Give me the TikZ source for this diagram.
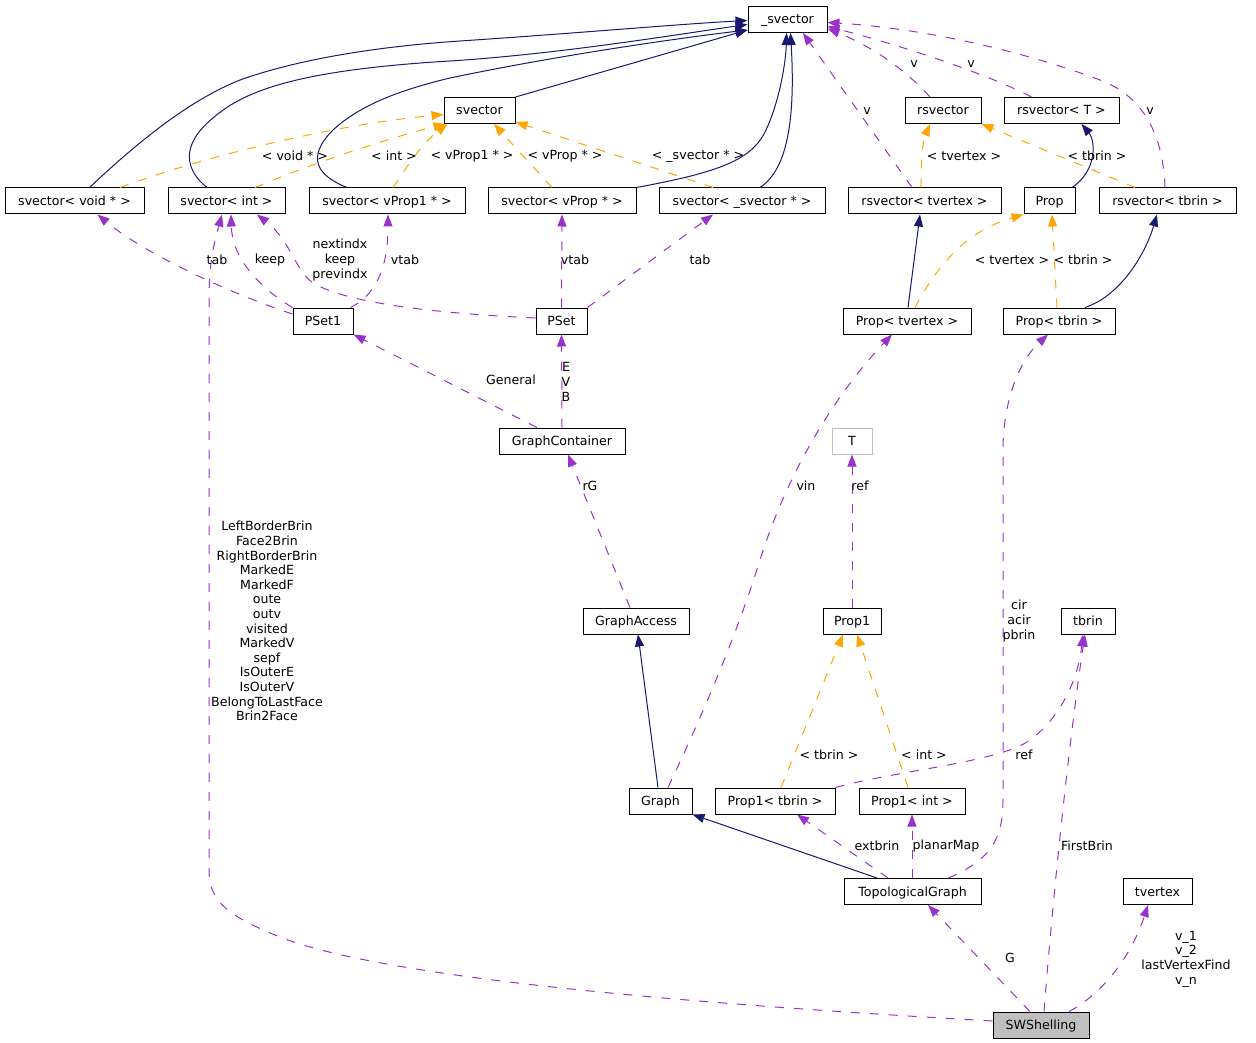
\documentclass[tikz,border=0pt]{standalone}
\usepackage{fontspec}
\setmainfont{DejaVu Sans}
\usetikzlibrary{positioning, arrows.meta, calc}

\definecolor{dxblue}{RGB}{25,25,112}
\definecolor{dxorange}{RGB}{255,165,0}
\definecolor{dxpurple}{RGB}{153,50,204}
\definecolor{dxgray}{RGB}{191,191,191}

\begin{document}
\begin{tikzpicture}[
    x=1pt, y=-1pt,
    >={Triangle[length=12pt, width=9pt]},
    every node/.style = {font=\fontsize{12.6}{14.6}\selectfont},
    cls/.style        = {rectangle, draw, line width=1pt, text height=11pt, text depth=2pt,
                         minimum height=26pt, inner sep=1pt},
    lbl/.style        = {align=center, inner sep=0pt},
    isa/.style        = {->, line width=1pt, dxblue},
    inst/.style       = {->, line width=1pt, dxorange, dash pattern=on 9pt off 10pt},
    uses/.style       = {->, line width=1pt, dxpurple, dash pattern=on 9pt off 10pt}
]
\useasboundingbox (0,0) rectangle (1256,1043);

% Base containers
\node[cls, minimum width=79pt]  (svec)  at (787.5,19.5)  {\_svector};
\node[cls, minimum width=71pt]  (sv)    at (479.5,110.5) {svector};
\node[cls, minimum width=76pt]  (rsv)   at (943,110.5)   {rsvector};
\node[cls, minimum width=115pt] (rsvT)  at (1061.5,110.5) {rsvector< T >};

% Template instances (row 2)
\node[cls, minimum width=139pt] (svVoid)   at (74.5,201)  {svector< void * >};
\node[cls, minimum width=117pt] (svInt)    at (226.5,201) {svector< int >};
\node[cls, minimum width=156pt] (svVProp1) at (387,201)   {svector< vProp1 * >};
\node[cls, minimum width=148pt] (svVProp)  at (562,201)   {svector< vProp * >};
\node[cls, minimum width=166pt] (svSvec)   at (742,201)   {svector< \_svector * >};
\node[cls, minimum width=153pt] (rsvTv)    at (924.5,201) {rsvector< tvertex >};
\node[cls, minimum width=51pt]  (prop)     at (1049.5,201) {Prop};
\node[cls, minimum width=137pt] (rsvTb)    at (1167.5,201) {rsvector< tbrin >};

% Sets and properties
\node[cls, minimum width=60pt]  (pset1)  at (323,321)   {PSet1};
\node[cls, minimum width=51pt]  (pset)   at (561.5,321) {PSet};
\node[cls, minimum width=128pt] (propTv) at (907,321)   {Prop< tvertex >};
\node[cls, minimum width=112pt] (propTb) at (1059,321)  {Prop< tbrin >};

\node[cls, minimum width=126pt] (gcont) at (562,441) {GraphContainer};
\node[cls, minimum width=40pt, draw=dxgray] (tT) at (852,441) {T};

\node[cls, minimum width=106pt] (gacc)  at (636,621)  {GraphAccess};
\node[cls, minimum width=58pt]  (prop1) at (852,621)  {Prop1};
\node[cls, minimum width=54pt]  (tbrin) at (1088,621) {tbrin};

\node[cls, minimum width=63pt]  (graph)    at (660.5,801) {Graph};
\node[cls, minimum width=120pt] (prop1Tb)  at (775,801)   {Prop1< tbrin >};
\node[cls, minimum width=106pt] (prop1Int) at (912,801)   {Prop1< int >};

\node[cls, minimum width=137pt] (topo)    at (912.5,891.5)  {TopologicalGraph};
\node[cls, minimum width=69pt]  (tvertex) at (1157.5,891.5) {tvertex};
\node[cls, minimum width=96pt, fill=dxgray] (sws) at (1041,1025) {SWShelling};

% Inheritance
\draw[isa] (sv.north east) -- ([yshift=3pt]svec.south west);
\draw[isa] ([xshift=15pt]svVoid.north) .. controls (140,140) and (190,100) .. (240,80)
           .. controls (310,55) and (400,45) .. (460,41)
           .. controls (580,33) and (680,24) .. ([yshift=-1pt]svec.west);
\draw[isa] ([xshift=-19.5pt]svInt.north) .. controls (185,170) and (180,145) .. (213,118)
           .. controls (245,90) and (300,70) .. (450,61)
           .. controls (560,54) and (680,34) .. ([yshift=-5pt]svec.west);
\draw[isa] ([xshift=-40pt]svVProp1.north) .. controls (318,176) and (305,158) .. (333,130)
           .. controls (360,105) and (400,90) .. (450,78)
           .. controls (560,55) and (680,38) .. ([yshift=3pt]svec.south west);
\draw[isa] (svVProp.north east) .. controls (720,172) and (752,160) .. (766,130)
           .. controls (780,100) and (786,60) .. ([xshift=-1pt]svec.south);
\draw[isa] ([xshift=18pt]svSvec.north) .. controls (790,168) and (795,110) .. ([xshift=3pt]svec.south);
\draw[isa] ([xshift=22.5pt]prop.north) .. controls (1098,170) and (1095,140) .. ([xshift=20pt]rsvT.south);
\draw[isa] ([xshift=1pt]propTv.north) -- ([xshift=-4.5pt]rsvTv.south);
\draw[isa] ([xshift=26pt]propTb.north) .. controls (1120,296) and (1145,255) .. ([xshift=-10.5pt]rsvTb.south);
\draw[isa] ([xshift=-2.5pt]graph.north) -- ([xshift=2pt]gacc.south);
\draw[isa] ([xshift=-35.5pt]topo.north) -- (graph.south east);

% Template instantiation
\draw[inst] ([xshift=45.5pt]svVoid.north) .. controls (200,158) and (330,125) .. ([yshift=-4pt]sv.west);
\draw[inst] ([xshift=28.5pt]svInt.north) .. controls (320,160) and (400,135) .. ([xshift=2pt]sv.south west);
\draw[inst] ([xshift=6pt]svVProp1.north) .. controls (405,170) and (420,145) .. ([xshift=4pt]sv.south west);
\draw[inst] ([xshift=-10pt]svVProp.north) -- ([xshift=14.5pt]sv.south);
\draw[inst] ([xshift=-29pt]svSvec.north) -- ([yshift=2pt]sv.south east);
\draw[inst] ([xshift=-3.5pt]rsvTv.north) .. controls (921,160) and (923,140) .. ([xshift=-13pt]rsv.south);
\draw[inst] ([xshift=-32.5pt]rsvTb.north) -- (rsv.south east);
\draw[inst] ([xshift=8pt]propTv.north) .. controls (940,260) and (970,230) .. (prop.south west);
\draw[inst] ([xshift=-2pt]propTb.north) -- ([xshift=2.5pt]prop.south);
\draw[inst] ([xshift=6pt]prop1Tb.north) -- ([xshift=-9pt]prop1.south);
\draw[inst] ([xshift=-4pt]prop1Int.north) -- ([xshift=5pt]prop1.south);

\node[lbl] (lVoid)   at (295,156)  {< void * >};
\node[lbl] (lInt)    at (394,156)  {< int >};
\node[lbl] (lVProp1) at (472,156)  {< vProp1 * >};
\node[lbl] (lVProp)  at (565,156)  {< vProp * >};
\node[lbl] (lSvec)   at (698,156)  {< \_svector * >};
\node[lbl] (lTv)     at (964,156)  {< tvertex >};
\node[lbl] (lTb)     at (1097,156) {< tbrin >};
\node[lbl] (lPropTv) at (1012,260) {< tvertex >};
\node[lbl] (lPropTb) at (1083,260) {< tbrin >};
\node[lbl] (lP1Tb)   at (829,755)  {< tbrin >};
\node[lbl] (lP1Int)  at (924,755)  {< int >};

% Usage
\draw[uses] ([xshift=-13pt]rsv.north) .. controls (910,75) and (880,50) .. ([yshift=-9pt]svec.east);
\draw[uses] ([xshift=-30pt]rsvT.north) .. controls (990,75) and (900,45) .. ([yshift=-7pt]svec.east);
\draw[uses] ([xshift=-2.5pt]rsvTb.north) .. controls (1163,130) and (1140,95) .. (1100,80)
            .. controls (1020,50) and (920,28) .. ([yshift=-3pt]svec.east);
\draw[uses] ([xshift=-12.5pt]rsvTv.north) -- ([xshift=15.5pt]svec.south);
\draw[uses] ([yshift=7pt]pset1.west) .. controls (220,290) and (140,250) .. ([xshift=23pt]svVoid.south);
\draw[uses] (pset1.north west) .. controls (255,285) and (232,255) .. ([xshift=4.5pt]svInt.south);
\draw[uses] ([yshift=3pt]pset.west) .. controls (450,314) and (350,305) .. (313,283)
            .. controls (295,270) and (290,240) .. ([xshift=30.5pt]svInt.south);
\draw[uses] ([xshift=-3pt]pset1.north east) .. controls (375,295) and (388,270) .. ([xshift=1pt]svVProp1.south);
\draw[uses] (pset.north) -- (svVProp.south);
\draw[uses] (pset.north east) -- ([xshift=-29pt]svSvec.south);
\draw[uses] ([xshift=-25pt]gcont.north) -- (pset1.south east);
\draw[uses] (gcont.north) -- (pset.south);
\draw[uses] ([xshift=-6pt]gacc.north) -- ([xshift=6pt]gcont.south);
\draw[uses] ([xshift=7.5pt]graph.north) .. controls (700,720) and (735,640) .. (760,560)
            .. controls (785,480) and (830,400) .. ([xshift=-15pt]propTv.south);
\draw[uses] (prop1.north) -- (tT.south);
\draw[uses] ([xshift=-24.5pt]topo.north) -- ([xshift=22pt]prop1Tb.south);
\draw[uses] ([xshift=-0.5pt]topo.north) -- (prop1Int.south);
\draw[uses] ([xshift=36pt]topo.north) .. controls (990,860) and (1003,840) .. (1003,800)
            -- (1003,450) .. controls (1003,400) and (1020,360) .. ([xshift=-11pt]propTb.south);
\draw[uses] (prop1Tb.north east) .. controls (900,770) and (1000,762) .. (1030,740)
            .. controls (1060,718) and (1078,680) .. ([xshift=-5pt]tbrin.south);
\draw[uses] ([xshift=-11pt]sws.north) -- ([xshift=15.5pt]topo.south);
\draw[uses] ([xshift=3pt]sws.north) .. controls (1055,870) and (1072,720) .. ([xshift=-3pt]tbrin.south);
\draw[uses] ([xshift=28pt]sws.north) .. controls (1100,995) and (1130,960) .. ([xshift=-9.5pt]tvertex.south);
\draw[uses] ([yshift=4pt]sws.west) .. controls (800,1010) and (400,985) .. (280,937)
            .. controls (225,915) and (209,900) .. (209,870) -- (209,300)
            .. controls (209,260) and (215,240) .. ([xshift=-4.5pt]svInt.south);

\node[lbl] (lV1)      at (914,64)   {v};
\node[lbl] (lV2)      at (971,64)   {v};
\node[lbl] (lV3)      at (867,111)  {v};
\node[lbl] (lV4)      at (1150,111) {v};
\node[lbl] (lTab1)    at (217,260)  {tab};
\node[lbl] (lKeep)    at (270,260)  {keep};
\node[lbl] (lIndx)    at (340,260)  {nextindx\\keep\\previndx};
\node[lbl] (lVtab1)   at (405,260)  {vtab};
\node[lbl] (lVtab2)   at (575,260)  {vtab};
\node[lbl] (lTab2)    at (700,260)  {tab};
\node[lbl] (lGeneral) at (511,380)  {General};
\node[lbl] (lEVB)     at (566,382)  {E\\V\\B};
\node[lbl] (lrG)      at (590,486)  {rG};
\node[lbl] (lVin)     at (806,486)  {vin};
\node[lbl] (lRef1)    at (860,486)  {ref};
\node[lbl] (lCir)     at (1019,621) {cir\\acir\\pbrin};
\node[lbl] (lMembers) at (267,621)  {LeftBorderBrin\\Face2Brin\\RightBorderBrin\\MarkedE\\MarkedF\\oute\\outv\\visited\\MarkedV\\sepf\\IsOuterE\\IsOuterV\\BelongToLastFace\\Brin2Face};
\node[lbl] (lRef2)    at (1024,755) {ref};
\node[lbl] (lExt)     at (877,846)  {extbrin};
\node[lbl] (lPlanar)  at (946,846)  {planarMap};
\node[lbl] (lFirst)   at (1087,846) {FirstBrin};
\node[lbl] (lG)       at (1010,958) {G};
\node[lbl] (lVerts)   at (1186,959) {v\_1\\v\_2\\lastVertexFind\\v\_n};

\end{tikzpicture}
\end{document}
